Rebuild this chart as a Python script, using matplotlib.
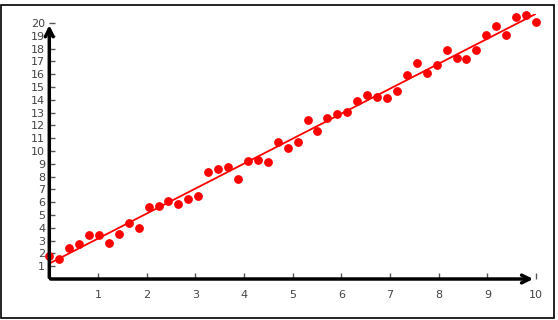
import numpy as np
import matplotlib.pyplot as plt
from matplotlib.patches import Rectangle

# данные
x_values = np.linspace(0, 10, 50)
y_values = [1.76, 1.56, 2.40, 2.76, 3.47, 3.41, 2.79, 3.52, 4.38, 3.99,
            5.65, 5.73, 6.12, 5.89, 6.23, 6.51, 8.34, 8.63, 8.78, 7.84,
            9.23, 9.33, 9.17, 10.74, 10.22, 10.69, 12.41, 11.57, 12.59, 12.92,
            13.06, 13.89, 14.41, 14.18, 14.15, 14.72, 15.93, 16.91, 16.13, 16.68,
            17.90, 17.30, 17.22, 17.88, 19.08, 19.80, 19.08, 20.50, 20.60, 20.07]
x_ticks = list(range(1, 11))
y_ticks = list(range(1, 21))

W, H = 558, 320
fig = plt.figure(figsize=(W / 100, H / 100), dpi=100)

# рамка вокруг всего рисунка
fig.patches.append(Rectangle((1 / W, 2 / H), 553 / W, 313 / H, transform=fig.transFigure,
                             fill=False, edgecolor='black', linewidth=1.2))

ax = fig.add_axes([49.3 / W, 41 / H, 486.7 / W, 265 / H])
ax.set_xlim(0, 10)
ax.set_ylim(0, 20.7)
for s in ax.spines.values():
    s.set_visible(False)

# линия регрессии
k, b = np.polyfit(x_values, y_values, 1)
xl = np.array([0, 10])
ax.plot(xl, k * xl + b, color='red', linewidth=1.3)

ax.scatter(x_values, y_values, s=28, color='red', zorder=3, clip_on=False)

# оси со стрелками
ax.annotate('', xy=(10, 0), xytext=(-0.03, 0), xycoords='data',
            arrowprops=dict(arrowstyle='->', lw=2.5, color='black', mutation_scale=14),
            annotation_clip=False)
ax.annotate('', xy=(0, 20.05), xytext=(0, -0.1), xycoords='data',
            arrowprops=dict(arrowstyle='->', lw=2.5, color='black', mutation_scale=14),
            annotation_clip=False)

ax.set_xticks(x_ticks)
ax.set_yticks(y_ticks)
ax.tick_params(axis='both', direction='in', length=4, width=1, color='#555555',
               labelcolor='#444444', labelsize=8)
ax.tick_params(axis='x', pad=8)
ax.tick_params(axis='y', pad=3)

plt.savefig('out.png', dpi=100)
